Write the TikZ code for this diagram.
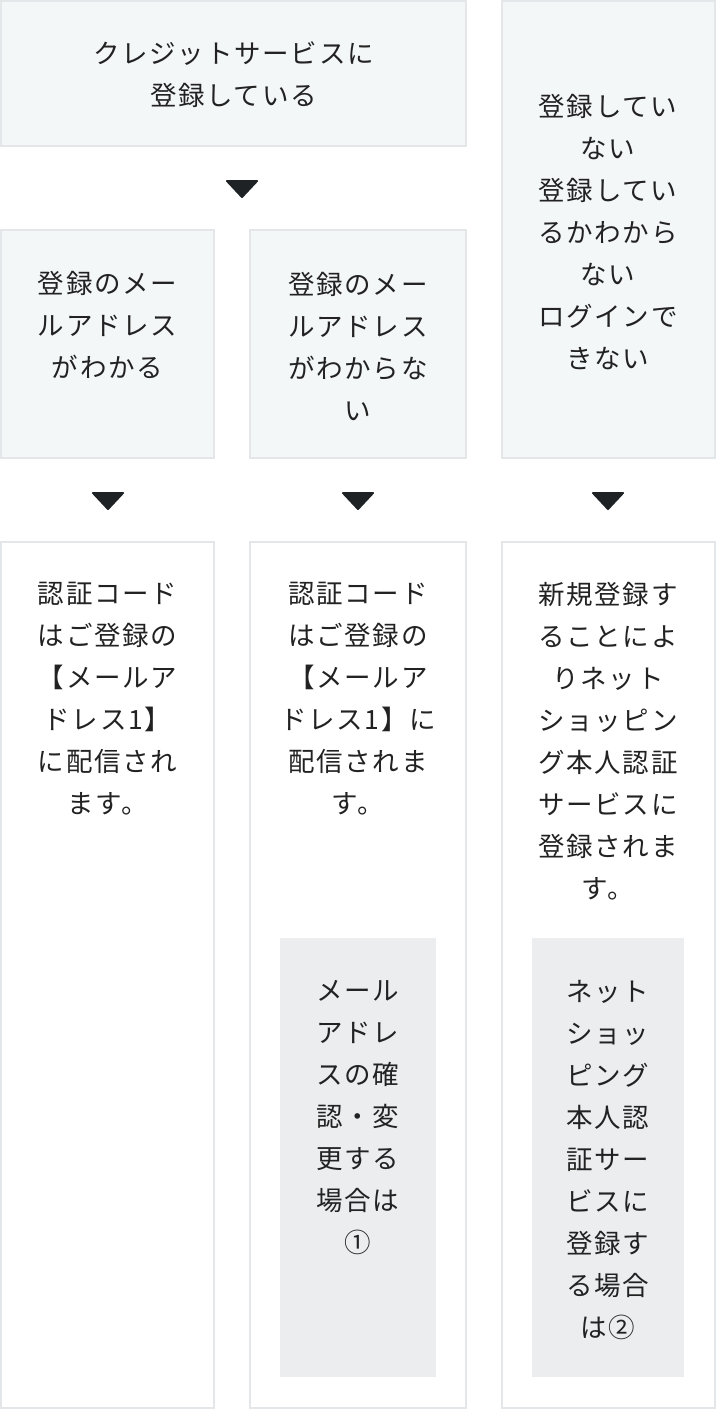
\documentclass[tikz,border=0pt]{standalone}
\usepackage{fontspec}
\setmainfont{Noto Sans CJK JP}[LetterSpace=6.5]
\usetikzlibrary{calc}
\definecolor{boxfill}{HTML}{F4F7F8}
\definecolor{boxline}{HTML}{E4E7E9}
\definecolor{notefill}{HTML}{EBEDEF}
\definecolor{ink}{HTML}{222222}
\definecolor{trifill}{HTML}{1E2224}
\begin{document}
\begin{tikzpicture}[x=1pt,y=-1pt,
  box/.style={draw=boxline, line width=2pt, anchor=north west, inner sep=0pt, outer sep=0pt, rectangle},
  head/.style={box, fill=boxfill},
  body/.style={box, fill=white},
  note/.style={fill=notefill, draw=none, anchor=north west, inner sep=0pt, outer sep=0pt, rectangle},
  txt/.style={align=center, text=ink, inner sep=0pt, font=\fontsize{26.5}{42}\selectfont},
  downtri/.style={fill=trifill, draw=trifill, line width=2pt, line join=round}]
\useasboundingbox (0,0) rectangle (716,1410);
% header row
\node[head, minimum width=465pt, minimum height=145pt] (A) at (1,1) {};
\node[head, minimum width=213pt, minimum height=457pt] (C) at (502,1) {};
\node[head, minimum width=213pt, minimum height=228pt] (B1) at (1,230) {};
\node[head, minimum width=216pt, minimum height=228pt] (B2) at (250,230) {};
% body row
\node[body, minimum width=213pt, minimum height=866pt] (D1) at (1,542) {};
\node[body, minimum width=216pt, minimum height=866pt] (D2) at (250,542) {};
\node[body, minimum width=213pt, minimum height=866pt] (D3) at (502,542) {};
% notes
\node[note, minimum width=156pt, minimum height=439pt] (N2) at (280,938) {};
\node[note, minimum width=152pt, minimum height=439pt] (N3) at (532,938) {};
% texts
\node[txt] (tA) at (233.5,74.5) {クレジットサービスに\\登録している};
\node[txt] (tC) at (608,232) {登録してい\\ない\\登録してい\\るかわから\\ない\\ログインで\\きない};
\node[txt] (tB1) at (107.5,325) {登録のメー\\ルアドレス\\がわかる};
\node[txt] (tB2) at (358,346) {登録のメー\\ルアドレス\\がわからな\\い};
\node[txt] (tD1) at (107.5,699) {認証コード\\はご登録の\\【メールア\\ドレス1】\\に配信され\\ます。};
\node[txt] (tD2) at (358,699) {認証コード\\はご登録の\\【メールア\\ドレス1】に\\配信されま\\す。};
\node[txt] (tD3) at (608,741) {新規登録す\\ることによ\\りネット\\ショッピン\\グ本人認証\\サービスに\\登録されま\\す。};
\node[txt] (tN2) at (358,1118) {メール\\アドレ\\スの確\\認・変\\更する\\場合は\\①};
\node[txt] (tN3) at (608,1160) {ネット\\ショッ\\ピング\\本人認\\証サー\\ビスに\\登録す\\る場合\\は②};
% triangles
\draw[downtri] (227,181) -- (257,181) -- (242,197) -- cycle;
\draw[downtri] (93,493) -- (123,493) -- (108,509) -- cycle;
\draw[downtri] (343,493) -- (373,493) -- (358,509) -- cycle;
\draw[downtri] (593,493) -- (623,493) -- (608,509) -- cycle;
\end{tikzpicture}
\end{document}
